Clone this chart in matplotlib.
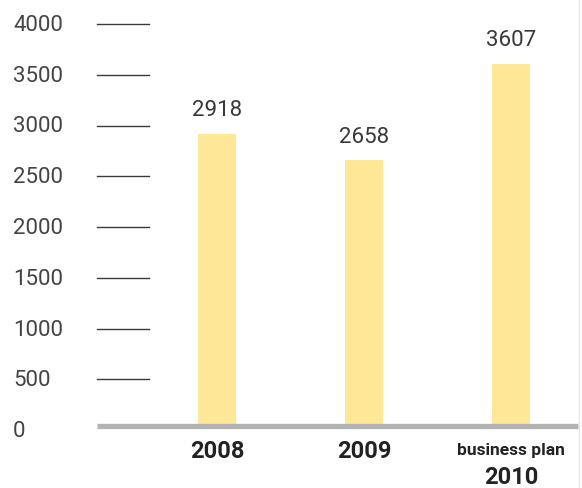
import matplotlib.pyplot as plt
from matplotlib.lines import Line2D

# data
years = ['2008', '2009', '2010']
values = [2918, 2658, 3607]
y_ticks = [0, 500, 1000, 1500, 2000, 2500, 3000, 3500, 4000]

W, H = 582, 488
fig = plt.figure(figsize=(W / 100, H / 100), dpi=100)

# scale: 0 at px 430, 4000 at px 24; axes bottom cut at px 426 (baseline)
s = (430 - 24) / 4000
ax = fig.add_axes([97 / W, (H - 426) / H, (578 - 97) / W, (426 - 24) / H])
ax.set_xlim(-120 / 147, 2 + 67 / 147)
ax.set_ylim(4 / s, 4000)
ax.axis('off')

font = 'Roboto'
x = list(range(len(years)))
ax.bar(x, values, width=38 / 147, color='#fee897', zorder=2)

# short tick dashes on the left
tr = ax.get_yaxis_transform()
for t in y_ticks[1:]:
    ax.plot([0, 52 / 481], [t, t], color='#3a3a3a', lw=1.0, transform=tr, clip_on=False)

# baseline
fig.add_artist(Line2D([97 / W, 578 / W], [(H - 425.5) / H] * 2, color='#b3b3b3', lw=3.8,
                      solid_capstyle='butt'))

# tick labels at left
for t in y_ticks:
    yp = ax.transData.transform((0, t))[1]
    fig.text(13 / W, yp / H - 1.5 / H, str(t), ha='left', va='center', fontsize=16,
             family=font, color='#444444')

# value labels above bars
for xi, v in zip(x, values):
    ax.annotate(str(v), (xi, v), xytext=(0, 9), textcoords='offset points', ha='center',
                va='bottom', fontsize=16, family=font, color='#383838')

# category labels
for xi, yr in zip(x, years):
    xp = ax.transData.transform((xi, 0))[0] / W
    if yr == '2010':
        fig.text(xp, (H - 450) / H, 'business plan', ha='center', va='center', fontsize=12.5,
                 family=font, fontweight='bold', color='#222222')
        fig.text(xp, (H - 477) / H, yr, ha='center', va='center', fontsize=17,
                 family=font, fontweight='bold', color='#222222')
    else:
        fig.text(xp, (H - 452) / H, yr, ha='center', va='center', fontsize=17,
                 family=font, fontweight='bold', color='#222222')

# faint right border
fig.add_artist(Line2D([579 / W, 579 / W], [0, 1], color='#e6e6e6', lw=1))

fig.savefig('out.png', dpi=100)
